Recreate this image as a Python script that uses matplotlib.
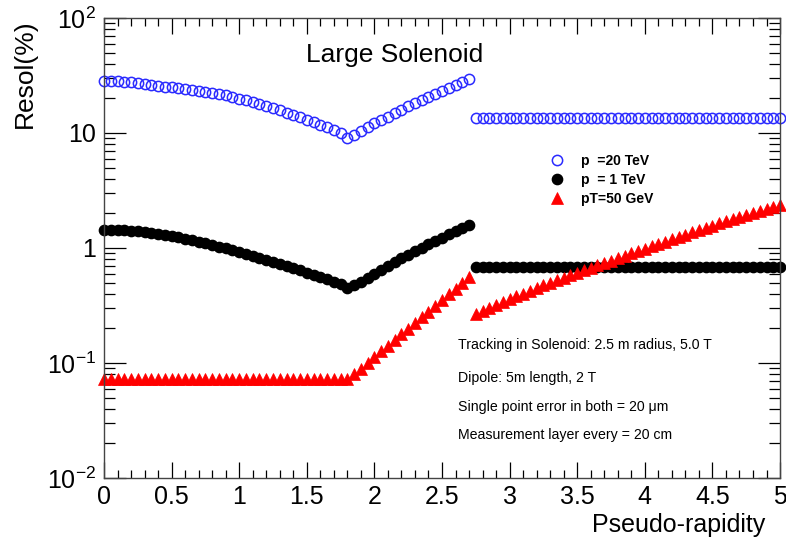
import numpy as np
import matplotlib
matplotlib.use("Agg")
import matplotlib.pyplot as plt
from matplotlib.ticker import FixedLocator, FixedFormatter, MultipleLocator, LogLocator, NullFormatter

plt.rcParams['font.family'] = ['Liberation Sans', 'DejaVu Sans']
plt.rcParams['mathtext.fontset'] = 'custom'
plt.rcParams['mathtext.rm'] = 'Liberation Sans'
plt.rcParams['mathtext.it'] = 'Liberation Sans:italic'

# pseudo-rapidity grid: solenoid part and dipole part
eta_sol = np.round(np.arange(0.0, 2.701, 0.05), 2)
eta_dip = np.round(np.arange(2.75, 5.001, 0.05), 2)

# p = 20 TeV (%)
res20_sol = [28.3, 28.25, 28.1, 27.9, 27.6, 27.2, 26.7, 26.1, 25.6, 25.3,
             24.9, 24.5, 24.1, 23.7, 23.3, 22.9, 22.3, 21.8, 21.2, 20.6,
             19.9, 19.2, 18.5, 17.8, 17.1, 16.4, 15.7, 15.0, 14.4, 13.7,
             13.1, 12.4, 11.8, 11.2, 10.6, 9.9, 9.1,
             9.7, 10.5, 11.3, 12.1, 13.0, 13.9, 14.9, 16.0, 17.1, 18.2,
             19.4, 20.7, 22.0, 23.3, 24.8, 26.2, 27.8, 29.4]
res20_dip = [13.5, 13.5, 13.5, 13.5, 13.5, 13.5, 13.5, 13.5, 13.5, 13.5,
             13.5, 13.5, 13.5, 13.5, 13.5, 13.5, 13.5, 13.5, 13.5, 13.5,
             13.5, 13.5, 13.5, 13.5, 13.5, 13.5, 13.5, 13.5, 13.5, 13.5,
             13.5, 13.5, 13.5, 13.5, 13.5, 13.5, 13.5, 13.5, 13.5, 13.5,
             13.5, 13.5, 13.5, 13.5, 13.5, 13.5]

# p = 1 TeV (%)
res1_sol = [1.44, 1.44, 1.435, 1.43, 1.415, 1.40, 1.38, 1.36, 1.33, 1.30,
            1.27, 1.24, 1.205, 1.17, 1.13, 1.096, 1.06, 1.03, 0.993, 0.959,
            0.927, 0.891, 0.857, 0.824, 0.792, 0.760, 0.730, 0.700, 0.670, 0.640,
            0.612, 0.586, 0.560, 0.535, 0.511, 0.485, 0.450,
            0.473, 0.511, 0.550, 0.592, 0.643, 0.695, 0.755, 0.813, 0.875, 0.940,
            1.007, 1.079, 1.153, 1.233, 1.318, 1.406, 1.496, 1.585]
res1_dip = [0.68, 0.68, 0.68, 0.68, 0.68, 0.68, 0.68, 0.68, 0.68, 0.68,
            0.68, 0.68, 0.68, 0.68, 0.68, 0.68, 0.68, 0.68, 0.68, 0.68,
            0.68, 0.68, 0.68, 0.68, 0.68, 0.68, 0.68, 0.68, 0.68, 0.68,
            0.68, 0.68, 0.68, 0.68, 0.68, 0.68, 0.68, 0.68, 0.68, 0.68,
            0.68, 0.68, 0.68, 0.68, 0.68, 0.68]

# pT = 50 GeV (%)
respt_sol = [0.072, 0.072, 0.072, 0.072, 0.072, 0.072, 0.072, 0.072, 0.072, 0.072,
             0.072, 0.072, 0.072, 0.072, 0.072, 0.072, 0.072, 0.072, 0.072, 0.072,
             0.072, 0.072, 0.072, 0.072, 0.072, 0.072, 0.072, 0.072, 0.072, 0.072,
             0.072, 0.072, 0.072, 0.072, 0.072, 0.072, 0.072,
             0.0798, 0.0893, 0.1002, 0.1122, 0.1259, 0.1413, 0.1581, 0.1774, 0.1991, 0.2228,
             0.2500, 0.2799, 0.3141, 0.3524, 0.3945, 0.4426, 0.4955, 0.5559]
respt_dip = [0.267, 0.284, 0.301, 0.320, 0.339, 0.359, 0.380, 0.402, 0.425, 0.448,
             0.472, 0.497, 0.522, 0.550, 0.578, 0.608, 0.640, 0.673, 0.706, 0.741,
             0.778, 0.817, 0.857, 0.900, 0.944, 0.989, 1.035, 1.084, 1.135, 1.189,
             1.245, 1.303, 1.365, 1.429, 1.496, 1.563, 1.633, 1.706, 1.778, 1.854,
             1.932, 2.009, 2.089, 2.173, 2.259, 2.344]

labels = ["p  =20 TeV", "p  = 1 TeV", "pT=50 GeV"]
notes = ["Tracking in Solenoid: 2.5 m radius, 5.0 T",
         "Dipole: 5m length, 2 T",
         "Single point error in both = 20 \u03bcm",
         "Measurement layer every = 20 cm"]

fig = plt.figure(figsize=(7.86, 5.42), dpi=100)
ax = fig.add_axes([0.1323, 0.1181, 0.8601, 0.8487])

blue = "#2a2aff"
eta = np.concatenate([eta_sol, eta_dip])
ax.plot(eta, res20_sol + res20_dip, ls="none", marker="o", ms=7.4, mfc="none",
        mec=blue, mew=1.1, label=labels[0], clip_on=False)
ax.plot(eta, res1_sol + res1_dip, ls="none", marker="o", ms=7.4, mfc="black",
        mec="black", label=labels[1], clip_on=False)
ax.plot(eta, respt_sol + respt_dip, ls="none", marker="^", ms=8, mfc="red",
        mec="red", mew=0.5, label=labels[2], clip_on=False)

ax.set_yscale("log")
ax.set_xlim(0, 5)
ax.set_ylim(1e-2, 1e2)

ax.yaxis.set_major_locator(FixedLocator([1e-2, 1e-1, 1, 10, 100]))
ax.yaxis.set_major_formatter(FixedFormatter(["$10^{-2}$", "$10^{-1}$", "1", "10", "$10^{2}$"]))
ax.yaxis.set_minor_locator(LogLocator(base=10, subs=np.arange(2, 10)))
ax.yaxis.set_minor_formatter(NullFormatter())
ax.xaxis.set_minor_locator(MultipleLocator(0.1))
ax.set_xticks([0, 0.5, 1, 1.5, 2, 2.5, 3, 3.5, 4, 4.5, 5])
ax.set_xticklabels(["0", "0.5", "1", "1.5", "2", "2.5", "3", "3.5", "4", "4.5", "5"])

ax.tick_params(axis="both", which="both", direction="in", top=True, right=True,
               labelsize=18, width=0.9)
ax.tick_params(axis="x", which="major", length=11.5, pad=5)
ax.tick_params(axis="x", which="minor", length=5.8)
ax.tick_params(axis="y", which="major", length=16, pad=6)
ax.tick_params(axis="y", which="minor", length=8)
for s in ax.spines.values():
    s.set_linewidth(1.0)
    s.set_color("#444444")

fig.text(0.974, 0.032, "Pseudo-rapidity", fontsize=18, ha="right", va="center")
fig.text(0.032, 0.965, "Resol(%)", fontsize=19, rotation=90, ha="center", va="top")
ax.text(0.43, 0.92, "Large Solenoid", transform=ax.transAxes, fontsize=19,
        ha="center", va="center")

ys = [0.290, 0.218, 0.155, 0.094]
for t, y in zip(notes, ys):
    ax.text(0.524, y, t, transform=ax.transAxes, fontsize=10.2, ha="left", va="center")

leg = ax.legend(loc="upper left", bbox_to_anchor=(0.652, 0.717), frameon=False,
                handlelength=1.0, handletextpad=1.2, labelspacing=0.36,
                prop={"weight": "bold", "size": 10}, borderaxespad=0)

fig.savefig("out.png", dpi=100)
